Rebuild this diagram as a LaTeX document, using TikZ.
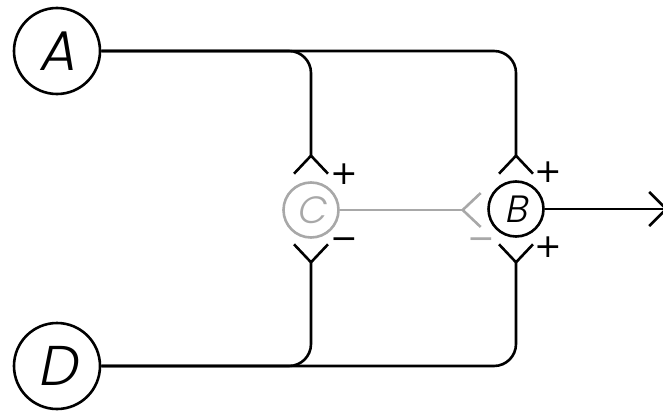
\documentclass[tikz,border=0pt]{standalone}
\usepackage{fontspec}
\newfontfamily\labfont[FakeSlant=0.2,UprightFont=* Light]{Poppins}
\newfontfamily\signfont{DejaVu Sans}
\usetikzlibrary{arrows.meta}
\definecolor{faded}{HTML}{A8A8A8}
\tikzset{
  wire/.style={line width=2.6pt, rounded corners=22pt},
  fork/.style={-{Straight Barb[reversed,length=18pt,width=34pt]}},
  outarrow/.style={-{Straight Barb[length=17pt,width=34pt]}},
  bignode/.style={circle, draw, line width=2.6pt, minimum size=86pt, inner sep=0pt, font=\labfont\fontsize{56}{56}\selectfont},
  smallnode/.style={circle, draw, line width=2.6pt, minimum size=55pt, inner sep=0pt, font=\labfont\fontsize{38}{38}\selectfont},
  sign/.style={inner sep=0pt, font=\signfont\fontsize{33}{33}\selectfont}
}
\begin{document}
\begin{tikzpicture}[x=1pt,y=-1pt]
\useasboundingbox (0,0) rectangle (663,412);
\node[bignode] (A) at (57,51) {A};
\node[bignode] (D) at (57,366) {D};
\node[smallnode, draw=faded, text=faded] (C) at (311,210) {C};
\node[smallnode] (B) at (516,209) {B};
\coordinate (Ctop) at (311,175);
\coordinate (Cbot) at (311,243);
\coordinate (Btop) at (516,175);
\coordinate (Bbot) at (516,243);
\coordinate (Bleft) at (482,210);
\coordinate (out) at (668,209);
\draw[wire, fork] (A.east) -| (Ctop);
\draw[wire, fork] (A.east) -| (Btop);
\draw[wire, fork] (D.east) -| (Cbot);
\draw[wire, fork] (D.east) -| (Bbot);
\draw[wire, fork, draw=faded] (C.east) -- (Bleft);
\draw[wire, outarrow] (B.east) -- (out);
\node[sign] (cp) at (344,174) {+};
\node[sign] (cm) at (344,244) {−};
\node[sign] (bp) at (548,172) {+};
\node[sign] (bq) at (548,247) {+};
\node[sign, text=faded] (bm) at (481,244) {−};
\end{tikzpicture}
\end{document}
